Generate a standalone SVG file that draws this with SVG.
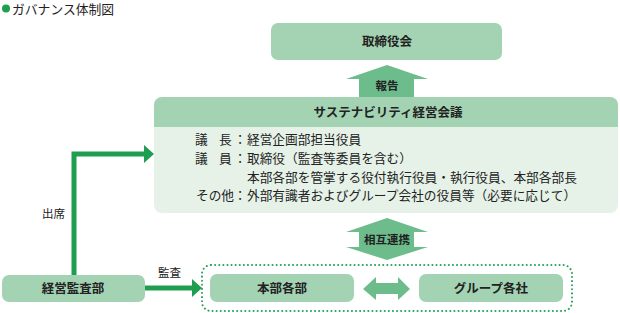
<svg xmlns="http://www.w3.org/2000/svg" width="620" height="313" viewBox="0 0 620 313">
<style>
text{font-family:"Noto Sans CJK JP","Noto Sans",sans-serif;fill:#222}
.box{fill:#a3d3b2}
.blk{fill:#6dbd8c}
.b{font-weight:bold;font-size:12.5px;text-anchor:middle}
.t{font-size:12.7px}
.l{font-size:11.5px}
.ln{fill:none;stroke:#1f9d50;stroke-width:5}
.hd{fill:#1f9d50}
</style>
<g id="title">
<circle cx="6" cy="8.5" r="4" fill="#1f9d50"/>
<text x="12" y="14" style="font-size:12.8px">ガバナンス体制図</text>
</g>
<g id="board">
<rect class="box" x="271" y="23" width="231" height="37" rx="7"/>
<text class="b" x="387" y="46">取締役会</text>
</g>
<g id="sustain">
<rect x="154" y="97" width="464" height="116" rx="8" fill="#e6f2e8"/>
<path class="box" d="M154,127 V105 a8,8 0 0 1 8,-8 H610 a8,8 0 0 1 8,8 V127 Z"/>
<text class="b" x="388" y="117">サステナビリティ経営会議</text>
<text class="t" x="195" y="144">議</text><text class="t" x="219" y="144">長</text><text class="t" x="240" y="144" text-anchor="middle">：</text>
<text class="t" x="247" y="144">経営企画部担当役員</text>
<text class="t" x="195" y="163">議</text><text class="t" x="219" y="163">員</text><text class="t" x="240" y="163" text-anchor="middle">：</text>
<text class="t" x="247" y="163">取締役（監査等委員を含む）</text>
<text class="t" x="247" y="182">本部各部を管掌する役付執行役員・執行役員、本部各部長</text>
<text class="t" x="196" y="200">その他</text><text class="t" x="240" y="200" text-anchor="middle">：</text>
<text class="t" x="247" y="200">外部有識者およびグループ会社の役員等（必要に応じて）</text>
</g>
<g id="audit">
<rect class="box" x="2" y="275" width="143" height="27" rx="7"/>
<text class="b" x="73" y="293">経営監査部</text>
</g>
<g id="group-frame">
<rect x="202" y="265" width="370" height="46" rx="9" fill="none" stroke="#2aa35a" stroke-width="2" stroke-dasharray="0.1 4" stroke-linecap="round"/>
</g>
<g id="honbu">
<rect class="box" x="210" y="274" width="144" height="28" rx="7"/>
<text class="b" x="282" y="293">本部各部</text>
</g>
<g id="groupco">
<rect class="box" x="419" y="274" width="144" height="28" rx="7"/>
<text class="b" x="491" y="293">グループ各社</text>
</g>
<g id="connectors">
<polygon class="blk" points="387,65 428,79 414,79 414,97 359,97 359,79 346,79"/>
<text class="b" x="387" y="90" style="font-size:11.5px">報告</text>
<polygon class="blk" points="387,218 428,232 414,232 414,247 428,247 387,260 346,247 359,247 359,232 346,232"/>
<text class="b" x="387" y="244" style="font-size:11.5px">相互連携</text>
<polygon class="blk" points="363,289 376,277 376,283 398,283 398,277 410,289 398,300 398,294 376,294 376,300"/>
<polyline class="ln" points="74,275 74,154 145,154"/>
<polygon class="hd" points="144,145 154,154 144,163"/>
<text class="l" x="42" y="218">出席</text>
<line class="ln" x1="145" y1="288" x2="193" y2="288"/>
<polygon class="hd" points="192,279 202,288 192,297"/>
<text class="l" x="158" y="277">監査</text>
</g>
</svg>
